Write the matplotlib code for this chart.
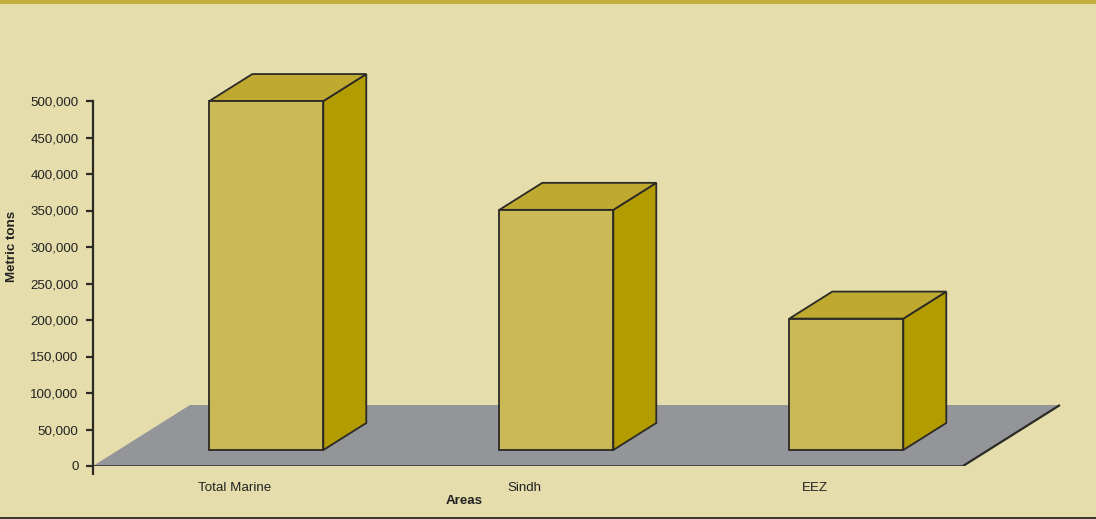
import matplotlib
matplotlib.use("Agg")
import matplotlib.pyplot as plt
from matplotlib.patches import Polygon, Rectangle
from matplotlib.ticker import FuncFormatter

# ---- data ----
categories = ["Total Marine", "Sindh", "EEZ"]
values = [478000, 329000, 180000]
yticks = [0, 50000, 100000, 150000, 200000, 250000, 300000, 350000, 400000, 450000, 500000]
xlabel = "Areas"
ylabel = "Metric tons"

# ---- style ----
BG = "#E5DEAC"
STRIP = "#C4B03F"
FRONT = "#CBB956"
TOP = "#BFA931"
SIDE = "#B29C00"
FLOOR = "#949599"
EDGE = "#2b2a26"
plt.rcParams['font.family'] = ['Liberation Sans', 'DejaVu Sans']

W, H = 1096, 519
fig = plt.figure(figsize=(W / 100, H / 100), dpi=100, facecolor=BG)

# pixel geometry of the plotting frame
x0_px, y0_px = 93, 466           # axis origin
cat_px = 290                      # pixels per category
val_px = 365 / 500000             # pixels per unit value

ax = fig.add_axes([x0_px / W, (H - y0_px) / H, (W - x0_px) / W, y0_px / H])
ax.set_facecolor("none")
ax.set_xlim(-0.5, -0.5 + (W - x0_px) / cat_px)
ax.set_ylim(0, y0_px / val_px)

# depth (full floor) in data units
ddx = 97 / cat_px
ddv = 61 / val_px
f0, f1 = 16 / 61, 43 / 61        # bar front / back depth fractions
bar_w = 114 / cat_px

n = len(categories)
# floor
floor = Polygon([(-0.5, 0), (n - 0.5, 0), (n - 0.5 + ddx, ddv), (-0.5 + ddx, ddv)],
                closed=True, facecolor=FLOOR, edgecolor="none", zorder=1)
ax.add_patch(floor)
ax.plot([n - 0.5, n - 0.5 + ddx], [0, ddv], color=EDGE, lw=1.6, zorder=2, solid_capstyle="butt")
ax.plot([-0.5, n - 0.5], [0, 0], color=EDGE, lw=1.8, zorder=2, solid_capstyle="butt")

# bars
bdx = (f1 - f0) * ddx
bdv = (f1 - f0) * ddv
for i, v in enumerate(values):
    cx = i + f0 * ddx + 0.01
    xl, xr = cx - bar_w / 2, cx + bar_w / 2
    vb = f0 * ddv
    vt = vb + v
    side = Polygon([(xr, vb), (xr + bdx, vb + bdv), (xr + bdx, vt + bdv), (xr, vt)],
                   closed=True, facecolor=SIDE, edgecolor=EDGE, lw=1.3, zorder=3)
    top = Polygon([(xl, vt), (xr, vt), (xr + bdx, vt + bdv), (xl + bdx, vt + bdv)],
                  closed=True, facecolor=TOP, edgecolor=EDGE, lw=1.3, zorder=3)
    front = Rectangle((xl, vb), bar_w, v, facecolor=FRONT, edgecolor=EDGE, lw=1.3, zorder=4)
    ax.add_patch(side)
    ax.add_patch(top)
    ax.add_patch(front)

# axes decoration
for s in ["top", "right", "bottom"]:
    ax.spines[s].set_visible(False)
ax.spines["left"].set_bounds(0, 500000)
ax.spines["left"].set_color(EDGE)
ax.spines["left"].set_linewidth(1.6)
ax.set_yticks(yticks)
ax.yaxis.set_major_formatter(FuncFormatter(lambda v, p: f"{int(v):,}"))
ax.tick_params(axis="y", length=5, width=1.6, color=EDGE, labelsize=9.6,
               labelcolor="#222222", pad=5.5)
ax.set_xticks([-0.5])
ax.set_xticklabels([""])
ax.tick_params(axis="x", length=6.5, width=1.6, color=EDGE, direction="out")
for i, c in enumerate(categories):
    ax.text(i - 0.012, -0.034, c, transform=ax.get_xaxis_transform(),
            ha="center", va="top", fontsize=9.6, color="#222222")

fig.text(464 / W, 1 - 501 / H, xlabel, ha="center", va="center",
         fontsize=9.6, fontweight="bold", color="#222222")
fig.text(12 / W, 1 - 246 / H, ylabel, ha="center", va="center", rotation=90,
         fontsize=9.6, fontweight="bold", color="#222222")

# top strip and bottom rule
fig.patches.append(Rectangle((0, 1 - 4 / H), 1, 4 / H, transform=fig.transFigure,
                             facecolor=STRIP, edgecolor="none", zorder=0))
fig.patches.append(Rectangle((0, 0.5 / H), 1, 2 / H, transform=fig.transFigure,
                             facecolor="#3b3a33", edgecolor="none", zorder=0))

fig.savefig("out.png", dpi=100, facecolor=BG)
